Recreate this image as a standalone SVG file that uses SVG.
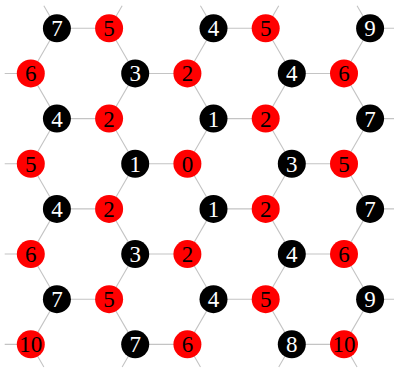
<svg xmlns="http://www.w3.org/2000/svg" width="394" height="375" viewBox="0 0 394 375">
<style>
.e{fill:none;stroke:#c4c4c4;stroke-width:1.1}
.b circle{fill:#000}
.r circle{fill:#f00}
text{font-family:"Liberation Serif","DejaVu Serif",serif;font-size:23px;text-anchor:middle}
.b text{fill:#fff}
.r text{fill:#000}
</style>
<rect width="394" height="375" fill="#fff"/>
<g id="edges" class="e">
<path d="M56.9 28.3H109.1M213.5 28.3H265.7M370.1 28.3H396.2M56.9 118.6H109.1M213.5 118.6H265.7M370.1 118.6H396.2M56.9 208.9H109.1M213.5 208.9H265.7M370.1 208.9H396.2M56.9 299.2H109.1M213.5 299.2H265.7M370.1 299.2H396.2"/>
<path d="M4.7 73.45H30.8M135.2 73.45H187.4M291.8 73.45H344M4.7 163.75H30.8M135.2 163.75H187.4M291.8 163.75H344M4.7 254.05H30.8M135.2 254.05H187.4M291.8 254.05H344M4.7 344.35H30.8M135.2 344.35H187.4M291.8 344.35H344"/>
<polyline points="43.85,5.725 56.9,28.3 30.8,73.45 56.9,118.6 30.8,163.75 56.9,208.9 30.8,254.05 56.9,299.2 30.8,344.35 43.85,366.925"/>
<polyline points="122.15,5.725 109.1,28.3 135.2,73.45 109.1,118.6 135.2,163.75 109.1,208.9 135.2,254.05 109.1,299.2 135.2,344.35 122.15,366.925"/>
<polyline points="200.45,5.725 213.5,28.3 187.4,73.45 213.5,118.6 187.4,163.75 213.5,208.9 187.4,254.05 213.5,299.2 187.4,344.35 200.45,366.925"/>
<polyline points="278.75,5.725 265.7,28.3 291.8,73.45 265.7,118.6 291.8,163.75 265.7,208.9 291.8,254.05 265.7,299.2 291.8,344.35 278.75,366.925"/>
<polyline points="357.05,5.725 370.1,28.3 344,73.45 370.1,118.6 344,163.75 370.1,208.9 344,254.05 370.1,299.2 344,344.35 357.05,366.925"/>
</g>
<g id="n0-1" class="b" transform="translate(56.9 28.3)"><circle r="14"/><text y="8">7</text></g>
<g id="n0-2" class="r" transform="translate(109.1 28.3)"><circle r="14"/><text y="8">5</text></g>
<g id="n0-5" class="b" transform="translate(213.5 28.3)"><circle r="14"/><text y="8">4</text></g>
<g id="n0-6" class="r" transform="translate(265.7 28.3)"><circle r="14"/><text y="8">5</text></g>
<g id="n0-9" class="b" transform="translate(370.1 28.3)"><circle r="14"/><text y="8">9</text></g>
<g id="n1-0" class="r" transform="translate(30.8 73.45)"><circle r="14"/><text y="8">6</text></g>
<g id="n1-3" class="b" transform="translate(135.2 73.45)"><circle r="14"/><text y="8">3</text></g>
<g id="n1-4" class="r" transform="translate(187.4 73.45)"><circle r="14"/><text y="8">2</text></g>
<g id="n1-7" class="b" transform="translate(291.8 73.45)"><circle r="14"/><text y="8">4</text></g>
<g id="n1-8" class="r" transform="translate(344 73.45)"><circle r="14"/><text y="8">6</text></g>
<g id="n2-1" class="b" transform="translate(56.9 118.6)"><circle r="14"/><text y="8">4</text></g>
<g id="n2-2" class="r" transform="translate(109.1 118.6)"><circle r="14"/><text y="8">2</text></g>
<g id="n2-5" class="b" transform="translate(213.5 118.6)"><circle r="14"/><text y="8">1</text></g>
<g id="n2-6" class="r" transform="translate(265.7 118.6)"><circle r="14"/><text y="8">2</text></g>
<g id="n2-9" class="b" transform="translate(370.1 118.6)"><circle r="14"/><text y="8">7</text></g>
<g id="n3-0" class="r" transform="translate(30.8 163.75)"><circle r="14"/><text y="8">5</text></g>
<g id="n3-3" class="b" transform="translate(135.2 163.75)"><circle r="14"/><text y="8">1</text></g>
<g id="n3-4" class="r" transform="translate(187.4 163.75)"><circle r="14"/><text y="8">0</text></g>
<g id="n3-7" class="b" transform="translate(291.8 163.75)"><circle r="14"/><text y="8">3</text></g>
<g id="n3-8" class="r" transform="translate(344 163.75)"><circle r="14"/><text y="8">5</text></g>
<g id="n4-1" class="b" transform="translate(56.9 208.9)"><circle r="14"/><text y="8">4</text></g>
<g id="n4-2" class="r" transform="translate(109.1 208.9)"><circle r="14"/><text y="8">2</text></g>
<g id="n4-5" class="b" transform="translate(213.5 208.9)"><circle r="14"/><text y="8">1</text></g>
<g id="n4-6" class="r" transform="translate(265.7 208.9)"><circle r="14"/><text y="8">2</text></g>
<g id="n4-9" class="b" transform="translate(370.1 208.9)"><circle r="14"/><text y="8">7</text></g>
<g id="n5-0" class="r" transform="translate(30.8 254.05)"><circle r="14"/><text y="8">6</text></g>
<g id="n5-3" class="b" transform="translate(135.2 254.05)"><circle r="14"/><text y="8">3</text></g>
<g id="n5-4" class="r" transform="translate(187.4 254.05)"><circle r="14"/><text y="8">2</text></g>
<g id="n5-7" class="b" transform="translate(291.8 254.05)"><circle r="14"/><text y="8">4</text></g>
<g id="n5-8" class="r" transform="translate(344 254.05)"><circle r="14"/><text y="8">6</text></g>
<g id="n6-1" class="b" transform="translate(56.9 299.2)"><circle r="14"/><text y="8">7</text></g>
<g id="n6-2" class="r" transform="translate(109.1 299.2)"><circle r="14"/><text y="8">5</text></g>
<g id="n6-5" class="b" transform="translate(213.5 299.2)"><circle r="14"/><text y="8">4</text></g>
<g id="n6-6" class="r" transform="translate(265.7 299.2)"><circle r="14"/><text y="8">5</text></g>
<g id="n6-9" class="b" transform="translate(370.1 299.2)"><circle r="14"/><text y="8">9</text></g>
<g id="n7-0" class="r" transform="translate(30.8 344.35)"><circle r="14"/><text y="8">10</text></g>
<g id="n7-3" class="b" transform="translate(135.2 344.35)"><circle r="14"/><text y="8">7</text></g>
<g id="n7-4" class="r" transform="translate(187.4 344.35)"><circle r="14"/><text y="8">6</text></g>
<g id="n7-7" class="b" transform="translate(291.8 344.35)"><circle r="14"/><text y="8">8</text></g>
<g id="n7-8" class="r" transform="translate(344 344.35)"><circle r="14"/><text y="8">10</text></g>
</svg>
